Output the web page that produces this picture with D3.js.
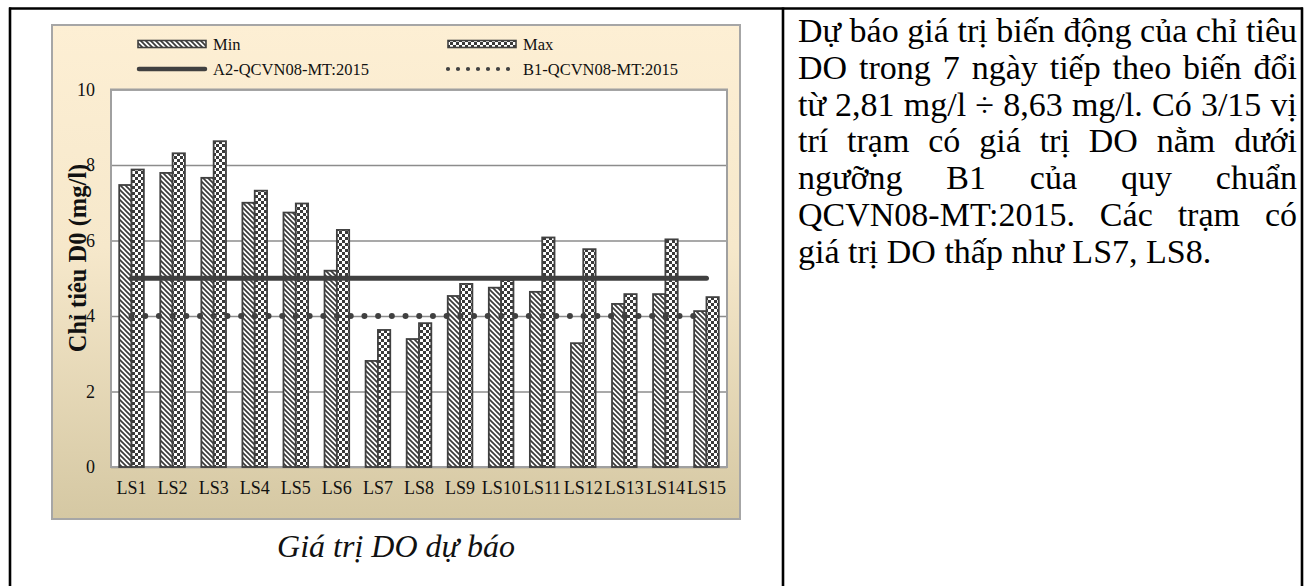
<!DOCTYPE html>
<html><head><meta charset="utf-8">
<script src="https://cdn.jsdelivr.net/npm/d3@7"></script>
<style>body{margin:0;background:#fff;} svg{display:block;}</style>
</head><body>
<svg id="c" width="1313" height="586"></svg>
<script>
const categories = ["LS1","LS2","LS3","LS4","LS5","LS6","LS7","LS8","LS9","LS10","LS11","LS12","LS13","LS14","LS15"];
const minValues = [7.47,7.79,7.66,7.00,6.74,5.20,2.81,3.39,4.53,4.75,4.64,3.28,4.32,4.58,4.13];
const maxValues = [7.88,8.31,8.63,7.32,6.98,6.28,3.63,3.81,4.85,4.95,6.08,5.77,4.58,6.03,4.50];
const seriesNames = ["Min","Max"];
const thresholdNames = ["A2-QCVN08-MT:2015","B1-QCVN08-MT:2015"];
const thresholdValues = [5,4];
const yTicks = [0,2,4,6,8,10];
const yTitle = "Chỉ tiêu D0 (mg/l)";
const caption = "Giá trị DO dự báo";
const paragraphLines = [
  "Dự báo giá trị biến động của chỉ tiêu",
  "DO trong 7 ngày tiếp theo biến đổi",
  "từ 2,81 mg/l ÷ 8,63 mg/l. Có 3/15 vị",
  "trí trạm có giá trị DO nằm dưới",
  "ngưỡng B1 của quy chuẩn",
  "QCVN08-MT:2015. Các trạm có",
  "giá trị DO thấp như LS7, LS8."
];

const svg = d3.select("#c");
const FONT = "'Liberation Serif','Times New Roman',serif";
const dark = "#404040";

const defs = svg.append("defs");
const grad = defs.append("linearGradient").attr("id","bg").attr("x1",0).attr("y1",0).attr("x2",0).attr("y2",1);
grad.append("stop").attr("offset","0%").attr("stop-color","#fdefd4");
grad.append("stop").attr("offset","45%").attr("stop-color","#f6e8cb");
grad.append("stop").attr("offset","100%").attr("stop-color","#d5c8a3");

const pDiag = defs.append("pattern").attr("id","pmin").attr("patternUnits","userSpaceOnUse").attr("width",5).attr("height",5);
pDiag.append("rect").attr("width",5).attr("height",5).attr("fill","#fff");
pDiag.append("path").attr("d","M-1,-1L6,6M-1,4L1,6M4,-1L6,1").attr("stroke","#3a3a3a").attr("stroke-width",1.7);
const pChk = defs.append("pattern").attr("id","pmax").attr("patternUnits","userSpaceOnUse").attr("width",6).attr("height",6);
pChk.append("rect").attr("width",6).attr("height",6).attr("fill","#fff");
pChk.append("rect").attr("width",3).attr("height",3).attr("fill","#3a3a3a");
pChk.append("rect").attr("x",3).attr("y",3).attr("width",3).attr("height",3).attr("fill","#3a3a3a");
const patterns = ["url(#pmin)","url(#pmax)"];

// table borders
const tbl = svg.append("g").attr("stroke","#000").attr("stroke-width",2.6);
tbl.append("line").attr("x1",9).attr("x2",1303).attr("y1",8.5).attr("y2",8.5);
[10,783,1302].forEach(x=>tbl.append("line").attr("x1",x).attr("x2",x).attr("y1",7.5).attr("y2",586));

// chart box
svg.append("rect").attr("x",52).attr("y",25).attr("width",688).attr("height",494)
  .attr("fill","url(#bg)").attr("stroke","#a6a6a6").attr("stroke-width",2);

const L=111, R=727, T=89.5, B=467;
const y = d3.scaleLinear().domain([0,10]).range([B,T]);
const x = d3.scaleBand().domain(categories).range([L,R]).paddingInner(0.4).paddingOuter(0.2);
const xs = d3.scaleBand().domain(seriesNames).range([0,x.bandwidth()]);
const xc = d3.scalePoint().domain(categories).range([L,R]).padding(0.5);

svg.append("rect").attr("x",L).attr("y",T).attr("width",R-L).attr("height",B-T).attr("fill","#fff");

// grid
const grid = svg.append("g").attr("transform",`translate(${L},0)`)
  .call(d3.axisLeft(y).tickValues(yTicks).tickSize(-(R-L)).tickFormat(""));
grid.select(".domain").remove();
grid.selectAll("line").attr("stroke","#8c8c8c").attr("stroke-width",1.3);

svg.append("rect").attr("x",L).attr("y",T).attr("width",R-L).attr("height",B-T).attr("fill","none")
  .attr("stroke","#a0a0a0").attr("stroke-width",2);

// y axis labels
const ya = svg.append("g").attr("transform",`translate(${L},0)`)
  .call(d3.axisLeft(y).tickValues(yTicks).tickSize(0).tickPadding(16));
ya.select(".domain").remove();
ya.selectAll("text").attr("font-family",FONT).attr("font-size",18).attr("fill","#111");

// x axis labels
const xa = svg.append("g").attr("transform",`translate(0,${B})`)
  .call(d3.axisBottom(x).tickSize(0).tickPadding(14));
xa.select(".domain").remove();
xa.selectAll("text").attr("font-family",FONT).attr("font-size",18).attr("fill","#111");

// bars
const data = categories.map((c,i)=>({c, vals:[minValues[i],maxValues[i]]}));
const gBars = svg.append("g");
data.forEach(d=>{
  d.vals.forEach((v,j)=>{
    gBars.append("rect")
      .attr("x", x(d.c)+xs(seriesNames[j]))
      .attr("y", y(v))
      .attr("width", xs.bandwidth())
      .attr("height", y(0)-y(v))
      .attr("fill", patterns[j]).attr("stroke",dark).attr("stroke-width",1.8);
  });
});

// threshold lines
const line = d3.line().x(d=>xc(d.c)).y(d=>y(d.v));
svg.append("path").datum(categories.map(c=>({c,v:thresholdValues[0]})))
  .attr("d",line).attr("fill","none").attr("stroke",dark).attr("stroke-width",5).attr("stroke-linecap","round");
svg.append("path").datum(categories.map(c=>({c,v:thresholdValues[1]})))
  .attr("d",line).attr("fill","none").attr("stroke",dark).attr("stroke-width",6)
  .attr("stroke-linecap","round").attr("stroke-dasharray","0 13.7");

// y title
svg.append("text").attr("transform","translate(86,258) rotate(-90)").attr("text-anchor","middle")
  .attr("font-family",FONT).attr("font-size",24.5).attr("font-weight","bold").attr("fill","#111").text(yTitle);

// legend
const lg = svg.append("g").attr("font-family",FONT).attr("font-size",16.5).attr("fill","#111");
const legendItems = [
  {type:"bar", idx:0, name:seriesNames[0], x:138, y:44},
  {type:"bar", idx:1, name:seriesNames[1], x:448, y:44},
  {type:"solid", name:thresholdNames[0], x:138, y:69},
  {type:"dot", name:thresholdNames[1], x:448, y:69}
];
legendItems.forEach(it=>{
  if(it.type==="bar"){
    lg.append("rect").attr("x",it.x).attr("y",it.y-3.5).attr("width",68).attr("height",7)
      .attr("fill",patterns[it.idx]).attr("stroke",dark).attr("stroke-width",1.6);
  } else if(it.type==="solid"){
    lg.append("line").attr("x1",it.x+1).attr("x2",it.x+67).attr("y1",it.y).attr("y2",it.y)
      .attr("stroke",dark).attr("stroke-width",4.5).attr("stroke-linecap","round");
  } else {
    lg.append("line").attr("x1",it.x).attr("x2",it.x+70).attr("y1",it.y).attr("y2",it.y)
      .attr("stroke",dark).attr("stroke-width",4.2).attr("stroke-linecap","round").attr("stroke-dasharray","0 10");
  }
  lg.append("text").attr("x",it.x+75).attr("y",it.y+5.5).text(it.name);
});

// caption
svg.append("text").attr("x",396).attr("y",557).attr("text-anchor","middle")
  .attr("font-family",FONT).attr("font-size",32).attr("font-style","italic").attr("fill","#111").text(caption);

// paragraph (justified)
const PX0=798, PX1=1297, PY0=42, PLH=36.8, PFS=34;
const pg = svg.append("g").attr("font-family",FONT).attr("font-size",PFS).attr("fill","#000");
const meas = svg.append("text").attr("font-family",FONT).attr("font-size",PFS).attr("visibility","hidden");
const wlen = w => { meas.text(w); return meas.node().getComputedTextLength(); };
paragraphLines.forEach((ln,i)=>{
  const words = ln.split(" ");
  const ws = words.map(wlen);
  const total = d3.sum(ws);
  const last = i===paragraphLines.length-1;
  const gap = last ? wlen("a a")-wlen("aa") : (PX1-PX0-total)/(words.length-1);
  let cx = PX0;
  const t = pg.append("text").attr("y",PY0+i*PLH);
  words.forEach((w,k)=>{
    t.append("tspan").attr("x",cx).text(w);
    cx += ws[k]+gap;
  });
});
meas.remove();
</script>
</body></html>
